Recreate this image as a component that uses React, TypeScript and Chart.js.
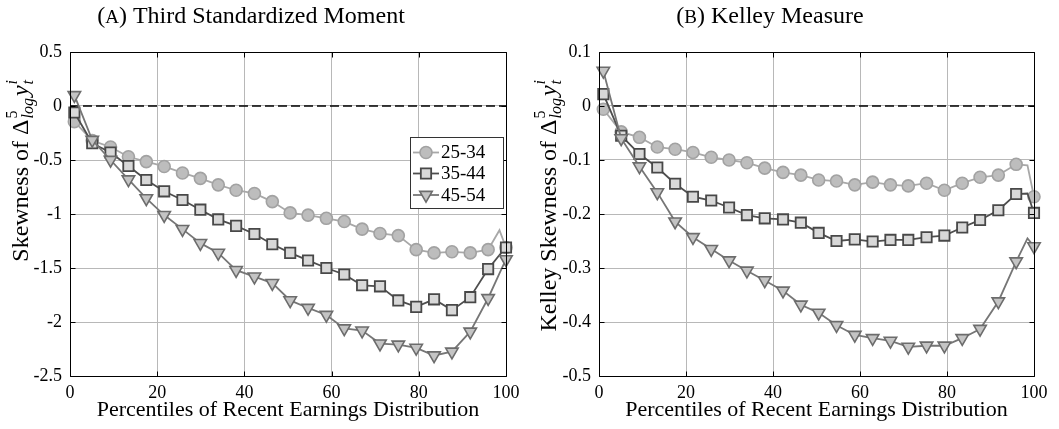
import React, { useEffect, useRef } from 'react';
import { Chart, registerables } from 'chart.js';

Chart.register(...registerables);

// ---------------- data ----------------
const percentiles = [1, 5.1, 9.3, 13.4, 17.5, 21.6, 25.8, 29.9, 34, 38.1, 42.3, 46.4, 50.5, 54.6, 58.8, 62.9, 67, 71.1, 75.3, 79.4, 83.5, 87.6, 91.8, 95.9, 98.5, 100];
const unmarkedPercentiles = [98.5];
const ageGroups = ['25-34', '35-44', '45-54'];

const moment2534 = [-0.145, -0.32, -0.38, -0.47, -0.515, -0.56, -0.62, -0.67, -0.73, -0.78, -0.81, -0.885, -0.99, -1.01, -1.04, -1.07, -1.14, -1.18, -1.2, -1.33, -1.36, -1.35, -1.36, -1.33, -1.15, -1.31];
const moment3544 = [-0.06, -0.345, -0.43, -0.555, -0.685, -0.79, -0.87, -0.96, -1.05, -1.11, -1.185, -1.28, -1.36, -1.43, -1.5, -1.56, -1.66, -1.67, -1.8, -1.86, -1.79, -1.89, -1.77, -1.51, -1.38, -1.31];
const moment4554 = [0.1, -0.315, -0.5, -0.68, -0.855, -1.01, -1.14, -1.27, -1.36, -1.52, -1.58, -1.64, -1.8, -1.87, -1.935, -2.06, -2.08, -2.2, -2.21, -2.24, -2.31, -2.275, -2.09, -1.78, -1.55, -1.42];

const kelley2534 = [-0.006, -0.048, -0.058, -0.076, -0.08, -0.086, -0.095, -0.1, -0.105, -0.115, -0.123, -0.128, -0.137, -0.139, -0.146, -0.141, -0.146, -0.148, -0.143, -0.156, -0.143, -0.132, -0.128, -0.108, -0.11, -0.168];
const kelley3544 = [0.022, -0.055, -0.089, -0.114, -0.144, -0.168, -0.175, -0.188, -0.202, -0.208, -0.21, -0.216, -0.235, -0.25, -0.247, -0.251, -0.248, -0.248, -0.243, -0.24, -0.225, -0.211, -0.193, -0.163, -0.162, -0.198];
const kelley4554 = [0.065, -0.06, -0.112, -0.16, -0.214, -0.243, -0.265, -0.286, -0.305, -0.323, -0.342, -0.368, -0.383, -0.406, -0.424, -0.43, -0.435, -0.446, -0.444, -0.444, -0.43, -0.413, -0.362, -0.288, -0.245, -0.26];

const xTicks = [0, 20, 40, 60, 80, 100];
const momentTicks = [0.5, 0, -0.5, -1, -1.5, -2, -2.5];
const kelleyTicks = [0.1, 0, -0.1, -0.2, -0.3, -0.4, -0.5];
const referenceLine = [0, 0];

const xTitle = 'Percentiles of Recent Earnings Distribution';

// ---------------- styles ----------------
const SERIF = '"Liberation Serif", "Times New Roman", serif';
const GRID = '#b8b8b8';

type SeriesStyle = {
  pointStyle: 'circle' | 'rect' | 'triangle';
  radius: number;
  rotation: number;
  line: string;
  fill: string;
  edge: string;
  edgeWidth: number;
};

const seriesStyles: SeriesStyle[] = [
  { pointStyle: 'circle', radius: 6, rotation: 0, line: '#a8a8a8', fill: '#bdbdbd', edge: '#a2a2a2', edgeWidth: 1.6 },
  { pointStyle: 'rect', radius: 7.3, rotation: 0, line: '#4e4e4e', fill: '#d8d8d8', edge: '#484848', edgeWidth: 1.8 },
  { pointStyle: 'triangle', radius: 7.2, rotation: 180, line: '#767676', fill: '#c4c4c4', edge: '#6c6c6c', edgeWidth: 1.6 },
];

function drawMarker(ctx: CanvasRenderingContext2D, s: SeriesStyle, x: number, y: number) {
  ctx.save();
  ctx.fillStyle = s.fill;
  ctx.strokeStyle = s.edge;
  ctx.lineWidth = s.edgeWidth;
  ctx.beginPath();
  if (s.pointStyle === 'circle') {
    ctx.arc(x, y, s.radius, 0, Math.PI * 2);
  } else if (s.pointStyle === 'rect') {
    const h = s.radius * Math.SQRT1_2;
    ctx.rect(x - h, y - h, 2 * h, 2 * h);
  } else {
    const r = s.radius;
    ctx.moveTo(x, y + r);
    ctx.lineTo(x - 0.866 * r, y - 0.5 * r);
    ctx.lineTo(x + 0.866 * r, y - 0.5 * r);
    ctx.closePath();
  }
  ctx.fill();
  ctx.stroke();
  ctx.restore();
}

function drawYLabel(ctx: CanvasRenderingContext2D, prefix: string, cx: number, topY: number) {
  const base = 24;
  const small = 16;
  const fBase = `${base}px ${SERIF}`;
  const fItal = `italic ${base}px ${SERIF}`;
  const fSmall = `${small}px ${SERIF}`;
  const fSmallItal = `italic ${small}px ${SERIF}`;
  ctx.save();
  ctx.font = fBase;
  const wPrefix = ctx.measureText(prefix).width;
  const wDelta = ctx.measureText('Δ').width;
  ctx.font = fSmall;
  const w5 = ctx.measureText('5').width;
  ctx.font = fSmallItal;
  const wLog = ctx.measureText('log').width;
  const wi = ctx.measureText('i').width;
  const wt = ctx.measureText('t').width;
  ctx.font = fItal;
  const wy = ctx.measureText('y').width;
  const total = wPrefix + wDelta + Math.max(w5, wLog) + 3 + wy + Math.max(wi, wt) + 1;
  ctx.translate(cx, topY + total);
  ctx.rotate(-Math.PI / 2);
  ctx.fillStyle = '#000';
  ctx.textAlign = 'left';
  ctx.textBaseline = 'alphabetic';
  const by = 8;
  let x = 0;
  ctx.font = fBase;
  ctx.fillText(prefix, x, by);
  x += wPrefix;
  ctx.fillText('Δ', x, by);
  x += wDelta + 1;
  ctx.font = fSmall;
  ctx.fillText('5', x, by - 11);
  ctx.font = fSmallItal;
  ctx.fillText('log', x, by + 5);
  x += Math.max(w5, wLog) + 2;
  ctx.font = fItal;
  ctx.fillText('y', x, by);
  x += wy + 1;
  ctx.font = fSmallItal;
  ctx.fillText('i', x, by - 11);
  ctx.fillText('t', x, by + 5);
  ctx.restore();
}

function drawTitle(ctx: CanvasRenderingContext2D, letter: string, text: string, cx: number, baseline: number) {
  const big = `24px ${SERIF}`;
  const sc = `19px ${SERIF}`;
  ctx.save();
  ctx.fillStyle = '#000';
  ctx.textBaseline = 'alphabetic';
  ctx.textAlign = 'left';
  ctx.font = big;
  const wOpen = ctx.measureText('(').width;
  const wRest = ctx.measureText(')' + text).width;
  ctx.font = sc;
  const wLetter = ctx.measureText(letter).width;
  let x = cx - (wOpen + wLetter + wRest) / 2;
  ctx.font = big;
  ctx.fillText('(', x, baseline);
  x += wOpen;
  ctx.font = sc;
  ctx.fillText(letter, x, baseline);
  x += wLetter;
  ctx.font = big;
  ctx.fillText(')' + text, x, baseline);
  ctx.restore();
}

type PanelConfig = {
  id: string;
  left: number;
  width: number;
  yAxisWidth: number;
  padRight: number;
  yMin: number;
  yMax: number;
  yTicks: number[];
  series: number[][];
  titleLetter: string;
  titleText: string;
  titleCenter: number;
  yLabelPrefix: string;
  yLabelX: number;
  yLabelTop: number;
  legend: boolean;
};

const panels: PanelConfig[] = [
  {
    id: 'moment', left: 0, width: 530, yAxisWidth: 70, padRight: 24,
    yMin: -2.5, yMax: 0.5, yTicks: momentTicks,
    series: [moment2534, moment3544, moment4554],
    titleLetter: 'A', titleText: ' Third Standardized Moment', titleCenter: 251,
    yLabelPrefix: 'Skewness of ', yLabelX: 20, yLabelTop: 80, legend: true,
  },
  {
    id: 'kelley', left: 530, width: 529, yAxisWidth: 69, padRight: 25,
    yMin: -0.5, yMax: 0.1, yTicks: kelleyTicks,
    series: [kelley2534, kelley3544, kelley4554],
    titleLetter: 'B', titleText: ' Kelley Measure', titleCenter: 240,
    yLabelPrefix: 'Kelley Skewness of ', yLabelX: 18, yLabelTop: 80, legend: false,
  },
];

function Panel({ cfg }: { cfg: PanelConfig }) {
  const ref = useRef<HTMLCanvasElement>(null);
  useEffect(() => {
    const canvas = ref.current;
    if (!canvas) return;

    const overlay = {
      id: 'overlay-' + cfg.id,
      afterDraw(chart: any) {
        const ctx: CanvasRenderingContext2D = chart.ctx;
        const a = chart.chartArea;
        const xs = chart.scales.x;
        const ys = chart.scales.y;
        const L = Math.round(a.left) + 0.5;
        const R = Math.round(a.right) + 0.5;
        const T = Math.round(a.top) + 0.5;
        const B = Math.round(a.bottom) + 0.5;
        ctx.save();
        ctx.strokeStyle = '#000';
        ctx.lineWidth = 1;
        ctx.beginPath();
        ctx.rect(L, T, R - L, B - T);
        const tl = 5;
        xTicks.forEach((v) => {
          const px = Math.round(xs.getPixelForValue(v)) + 0.5;
          ctx.moveTo(px, B);
          ctx.lineTo(px, B - tl);
          ctx.moveTo(px, T);
          ctx.lineTo(px, T + tl);
        });
        cfg.yTicks.forEach((v) => {
          const py = Math.round(ys.getPixelForValue(v)) + 0.5;
          ctx.moveTo(L, py);
          ctx.lineTo(L + tl, py);
          ctx.moveTo(R, py);
          ctx.lineTo(R - tl, py);
        });
        ctx.stroke();
        ctx.restore();

        drawTitle(ctx, cfg.titleLetter, cfg.titleText, cfg.titleCenter, 23);
        drawYLabel(ctx, cfg.yLabelPrefix, cfg.yLabelX, cfg.yLabelTop);

        ctx.save();
        ctx.fillStyle = '#000';
        ctx.font = `22px ${SERIF}`;
        ctx.textAlign = 'center';
        ctx.textBaseline = 'alphabetic';
        ctx.fillText(xTitle, (a.left + a.right) / 2, 416);
        ctx.restore();

        if (cfg.legend) {
          const bx = 410.5, by = 137.5, bw = 93, bh = 71;
          ctx.save();
          ctx.fillStyle = '#fff';
          ctx.strokeStyle = '#333';
          ctx.lineWidth = 1;
          ctx.fillRect(bx, by, bw, bh);
          ctx.strokeRect(bx, by, bw, bh);
          const rows = [152.5, 173.5, 195];
          ageGroups.forEach((label, i) => {
            const s = seriesStyles[i];
            const y = rows[i];
            ctx.strokeStyle = s.line;
            ctx.lineWidth = 1.8;
            ctx.beginPath();
            ctx.moveTo(413, y);
            ctx.lineTo(439, y);
            ctx.stroke();
            drawMarker(ctx, s, 426, y);
            ctx.fillStyle = '#000';
            ctx.font = `19px ${SERIF}`;
            ctx.textAlign = 'left';
            ctx.textBaseline = 'middle';
            ctx.fillText(label, 441, y + 1);
          });
          ctx.restore();
        }
      },
    };

    const datasets: any[] = cfg.series.map((vals, i) => {
      const s = seriesStyles[i];
      return {
        label: ageGroups[i],
        data: percentiles.map((p, j) => ({ x: p, y: vals[j] })),
        borderColor: s.line,
        borderWidth: 1.8,
        tension: 0,
        clip: false,
        pointStyle: s.pointStyle,
        pointRotation: s.rotation,
        pointRadius: (c: any) => (unmarkedPercentiles.includes(percentiles[c.dataIndex]) ? 0 : s.radius),
        pointBackgroundColor: s.fill,
        pointBorderColor: s.edge,
        pointBorderWidth: s.edgeWidth,
        order: 3 - i,
      };
    });
    datasets.push({
      label: 'zero',
      data: [
        { x: xTicks[0], y: referenceLine[0] },
        { x: xTicks[xTicks.length - 1], y: referenceLine[1] },
      ],
      borderColor: '#000',
      borderWidth: 1.3,
      borderDash: [9, 4],
      pointRadius: 0,
      order: 10,
    });

    const chart = new Chart(canvas, {
      type: 'line',
      data: { datasets },
      options: {
        responsive: false,
        animation: false,
        devicePixelRatio: 1,
        layout: { padding: { top: 52, right: cfg.padRight, left: 0, bottom: 0 } },
        plugins: {
          legend: { display: false },
          tooltip: { enabled: false },
          title: { display: false },
        },
        events: [],
        scales: {
          x: {
            type: 'linear',
            min: xTicks[0],
            max: xTicks[xTicks.length - 1],
            afterBuildTicks: (axis: any) => {
              axis.ticks = xTicks.map((v) => ({ value: v }));
            },
            afterFit: (s: any) => {
              s.height = 53;
            },
            grid: { color: GRID, lineWidth: 1, drawTicks: false },
            border: { display: false },
            ticks: {
              color: '#000',
              font: { family: SERIF, size: 18 },
              padding: 6,
              maxRotation: 0,
              autoSkip: false,
              callback: (v: any) => String(v),
            },
          },
          y: {
            type: 'linear',
            min: cfg.yMin,
            max: cfg.yMax,
            afterBuildTicks: (axis: any) => {
              axis.ticks = cfg.yTicks.map((v) => ({ value: v }));
            },
            afterFit: (s: any) => {
              s.width = cfg.yAxisWidth;
            },
            grid: { color: GRID, lineWidth: 1, drawTicks: false },
            border: { display: false },
            ticks: {
              color: '#000',
              font: { family: SERIF, size: 18 },
              padding: 8,
              autoSkip: false,
              callback: (v: any) => String(Math.round(Number(v) * 100) / 100),
            },
          },
        },
      } as any,
      plugins: [overlay],
    });
    return () => chart.destroy();
  }, [cfg]);

  return (
    <canvas
      ref={ref}
      width={cfg.width}
      height={429}
      style={{ position: 'absolute', left: cfg.left, top: 0, width: cfg.width, height: 429 }}
    />
  );
}

export default function App() {
  return (
    <div style={{ position: 'fixed', left: 0, top: 0, width: 1059, height: 429, background: '#fff', overflow: 'hidden' }}>
      {panels.map((p) => (
        <Panel key={p.id} cfg={p} />
      ))}
    </div>
  );
}
